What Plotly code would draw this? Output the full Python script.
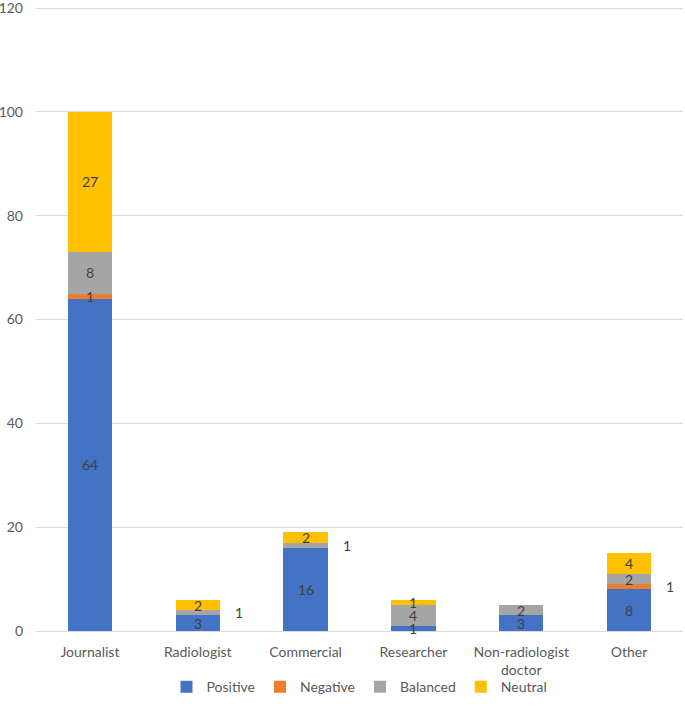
import plotly.graph_objects as go

categories = ["Journalist", "Radiologist", "Commercial", "Researcher", "Non-radiologist<br>doctor", "Other"]
series_names = ["Positive", "Negative", "Balanced", "Neutral"]
positive = [64, 3, 16, 1, 3, 8]
negative = [1, 0, 0, 0, 0, 1]
balanced = [8, 1, 1, 4, 2, 2]
neutral = [27, 2, 2, 1, 0, 4]
colors = ["#4472C4", "#ED7D31", "#A5A5A5", "#FFC000"]
# labels drawn to the right of the bar (category index, series index)
outside_labels = [(1, 2), (2, 2), (5, 1)]
y_ticks = [0, 20, 40, 60, 80, 100, 120]

values = [positive, negative, balanced, neutral]
font = "Lato, 'Open Sans', sans-serif"

fig = go.Figure()
for name, vals, col in zip(series_names, values, colors):
    fig.add_trace(go.Bar(x=categories, y=vals, name=name, marker_color=col,
                         marker_line_width=0))

annotations = []
for ci, cat in enumerate(categories):
    base = 0
    for si, vals in enumerate(values):
        v = vals[ci]
        if v > 0:
            outside = (ci, si) in outside_labels
            annotations.append(dict(
                x=cat, y=base + v / 2, text=str(v), showarrow=False,
                xref="x", yref="y", xshift=41 if outside else 0,
                font=dict(size=14, color="#404040", family=font)))
        base += v

fig.update_layout(
    width=685, height=708,
    barmode="stack", bargap=0.59,
    plot_bgcolor="white", paper_bgcolor="white",
    margin=dict(l=36, r=2, t=6, b=77, autoexpand=False),
    font=dict(family=font, size=14, color="#595959"),
    annotations=annotations,
    legend=dict(orientation="h", x=0.5, xanchor="center", y=-0.09, yanchor="middle",
                font=dict(size=14, color="#595959"), traceorder="normal",
                bgcolor="rgba(0,0,0,0)", itemwidth=30),
    yaxis=dict(range=[0, 120.4], tickvals=y_ticks, showgrid=True,
               gridcolor="#D9D9D9", zeroline=False, showline=False, ticks="",
               ticklabeloverflow="allow", ticklabelstandoff=12,
               automargin=False, tickfont=dict(size=14, color="#595959")),
    xaxis=dict(showline=True, linecolor="#D9D9D9", ticks="", automargin=False,
               ticklabelstandoff=8, tickfont=dict(size=14, color="#595959")),
)

fig.write_html("out.html", config={"displayModeBar": False},
               post_script="document.body.style.margin='0';")
